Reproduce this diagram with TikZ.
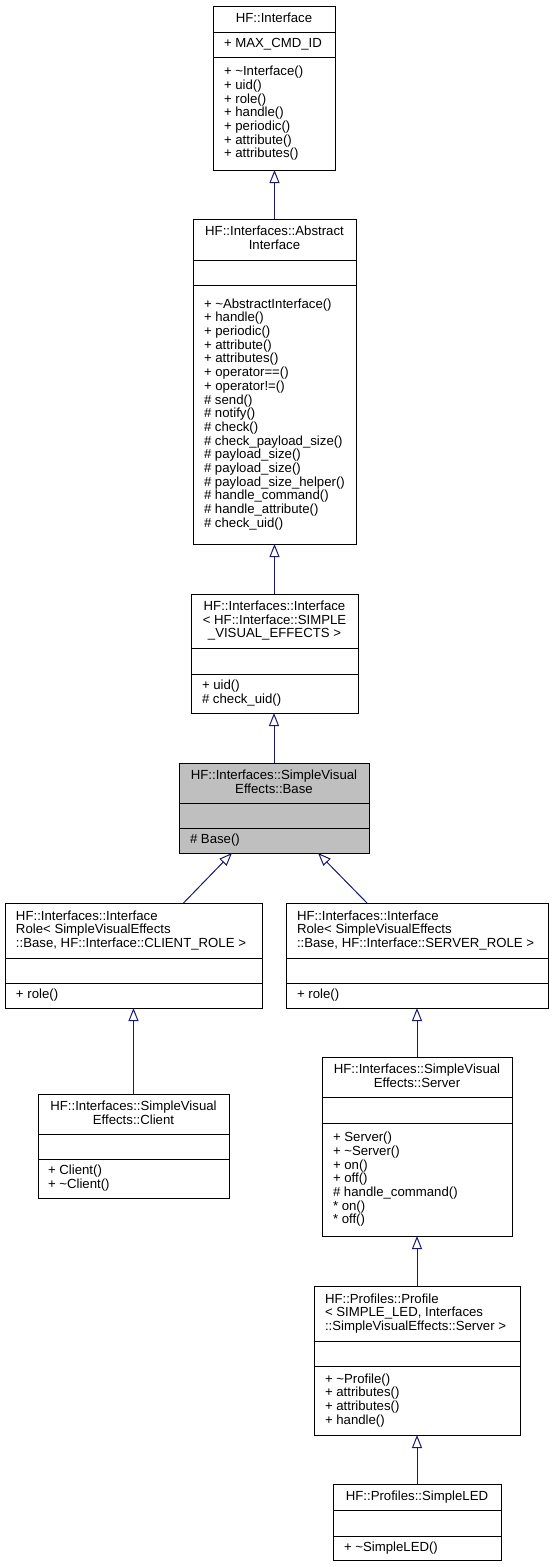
\documentclass[tikz,border=0pt]{standalone}
\usepackage{fontspec}
\setmainfont{Liberation Sans}
\usetikzlibrary{arrows.meta}
\definecolor{edgeblue}{HTML}{191970}
\definecolor{basegray}{HTML}{BFBFBF}
\newcommand\umlbox[8]{%
  \node[box, fill=#8, minimum width={(#4-#2)*1pt}, minimum height={(#5-#3)*1pt}, anchor=north west] (#1) at (#2,#3) {};
  \draw[sepline] (#2,#6) -- (#4,#6);
  \draw[sepline] (#2,#7) -- (#4,#7);
}
\begin{document}
\begin{tikzpicture}[x=1pt,y=-1pt,
  box/.style={draw=black, line width=1pt, inner sep=0pt, outer sep=0pt},
  sepline/.style={draw=black, line width=1pt},
  txt/.style={inner sep=0pt, outer sep=0pt, font=\fontsize{13.2}{13.7}\selectfont,
    execute at begin node=\strut, execute at end node=\strut},
  ttlc/.style={txt, align=center, anchor=center},
  ttll/.style={txt, align=left, anchor=west},
  mem/.style={txt, align=left, anchor=west},
  inh/.style={draw=edgeblue, line width=1pt, -{Triangle[open, length=13pt, width=10pt]}}]
\useasboundingbox[fill=white] (0,0) rectangle (555,1567);

% HF::Interface
\umlbox{iface}{213}{6}{335}{170}{32}{57}{white}
\node[ttlc] (ifacet) at (274,19.5) {HF::Interface};
\node[mem] (ifacea) at (224,45) {+ MAX\_CMD\_ID};
\node[mem] (ifacem) at (224,114) {+ \textasciitilde Interface()\\+ uid()\\+ role()\\+ handle()\\+ periodic()\\+ attribute()\\+ attributes()};

% Abstract Interface
\umlbox{absi}{193}{219}{356}{544}{260}{285}{white}
\node[ttlc] (absit) at (274.5,240) {HF::Interfaces::Abstract\\Interface};
\node[mem] (absim) at (204,415) {+ \textasciitilde AbstractInterface()\\+ handle()\\+ periodic()\\+ attribute()\\+ attributes()\\+ operator==()\\+ operator!=()\\\# send()\\\# notify()\\\# check()\\\# check\_payload\_size()\\\# payload\_size()\\\# payload\_size()\\\# payload\_size\_helper()\\\# handle\_command()\\\# handle\_attribute()\\\# check\_uid()};

% Interface< SIMPLE_VISUAL_EFFECTS >
\umlbox{itpl}{191}{594}{358}{713}{648}{674}{white}
\node[ttlc] (itplt) at (274.5,621.5) {HF::Interfaces::Interface\\< HF::Interface::SIMPLE\\\_VISUAL\_EFFECTS >};
\node[mem] (itplm) at (202,694) {+ uid()\\\# check\_uid()};

% Base
\umlbox{base}{179}{763}{369}{853}{803}{828}{basegray}
\node[ttlc] (baset) at (274,783.5) {HF::Interfaces::SimpleVisual\\Effects::Base};
\node[mem] (basem) at (190,841) {\# Base()};

% Client role
\umlbox{crole}{5}{903}{262}{1008}{958}{983}{white}
\node[ttll] (crolet) at (16,931) {HF::Interfaces::Interface\\Role< SimpleVisualEffects\\::Base, HF::Interface::CLIENT\_ROLE >};
\node[mem] (crolem) at (16,996) {+ role()};

% Server role
\umlbox{srole}{286}{903}{548}{1008}{958}{983}{white}
\node[ttll] (srolet) at (297,931) {HF::Interfaces::Interface\\Role< SimpleVisualEffects\\::Base, HF::Interface::SERVER\_ROLE >};
\node[mem] (srolem) at (297,996) {+ role()};

% Client
\umlbox{client}{38}{1094}{229}{1198}{1134}{1159}{white}
\node[ttlc] (clientt) at (133.5,1114.5) {HF::Interfaces::SimpleVisual\\Effects::Client};
\node[mem] (clientm) at (48,1179) {+ Client()\\+ \textasciitilde Client()};

% Server
\umlbox{srv}{322}{1057}{512}{1236}{1097}{1123}{white}
\node[ttlc] (srvt) at (417,1077.5) {HF::Interfaces::SimpleVisual\\Effects::Server};
\node[mem] (srvm) at (333,1180) {+ Server()\\+ \textasciitilde Server()\\+ on()\\+ off()\\\# handle\_command()\\* on()\\* off()};

% Profile
\umlbox{prof}{314}{1286}{520}{1435}{1341}{1366}{white}
\node[ttll] (proft) at (325,1314) {HF::Profiles::Profile\\< SIMPLE\_LED, Interfaces\\::SimpleVisualEffects::Server >};
\node[mem] (profm) at (325,1401) {+ \textasciitilde Profile()\\+ attributes()\\+ attributes()\\+ handle()};

% SimpleLED
\umlbox{led}{333}{1484}{501}{1560}{1510}{1536}{white}
\node[ttlc] (ledt) at (417,1497.5) {HF::Profiles::SimpleLED};
\node[mem] (ledm) at (344,1548.5) {+ \textasciitilde SimpleLED()};

% inheritance edges
\draw[inh] (absi.north) -- (absi.north |- iface.south);
\draw[inh] (itpl.north) -- (itpl.north |- absi.south);
\draw[inh] (base.north) -- (base.north |- itpl.south);
\draw[inh] ([xshift=50pt]crole.north) -- ([xshift=-42pt]base.south);
\draw[inh] ([xshift=-50pt]srole.north) -- ([xshift=44pt]base.south);
\draw[inh] (client.north) -- (client.north |- crole.south);
\draw[inh] (srv.north) -- (srv.north |- srole.south);
\draw[inh] (prof.north) -- (prof.north |- srv.south);
\draw[inh] (led.north) -- (led.north |- prof.south);
\end{tikzpicture}
\end{document}
